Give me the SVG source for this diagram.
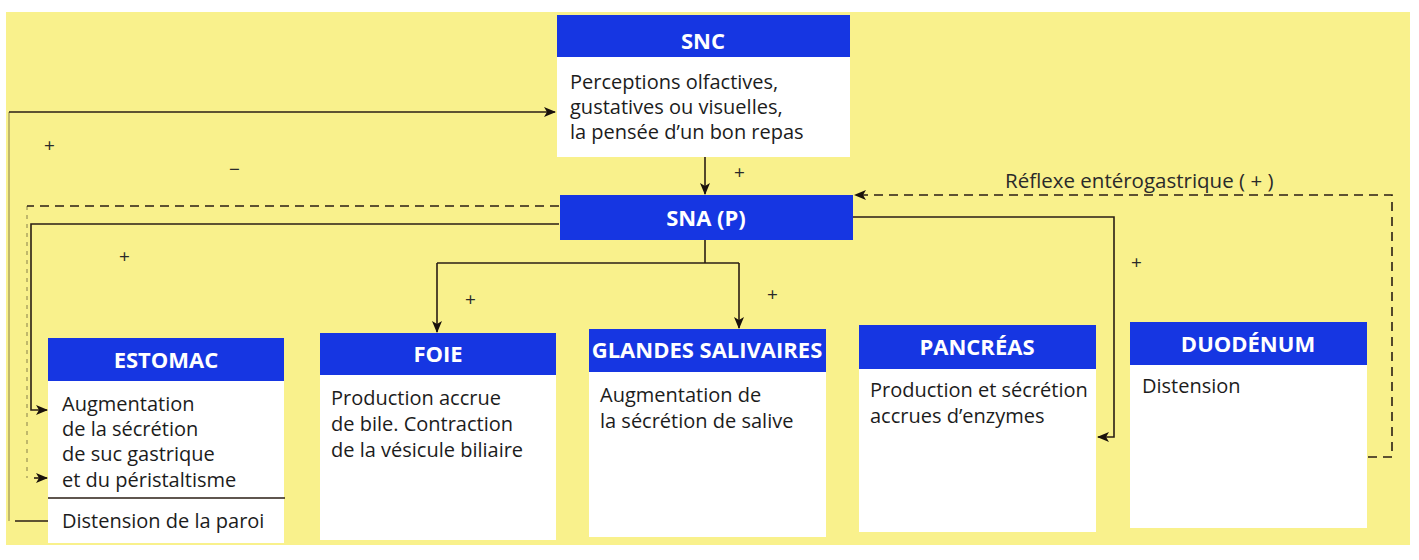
<svg xmlns="http://www.w3.org/2000/svg" width="1419" height="560" viewBox="0 0 1419 560">
<style>
.hd{fill:#1636e2}
.bd{fill:#ffffff}
.tt{font-family:"Open Sans","Noto Sans",sans-serif;font-weight:bold;font-size:22px;fill:#ffffff;text-anchor:middle}
.tx{font-family:"Open Sans","Noto Sans",sans-serif;font-size:20px;fill:#1c1c1c}
.sg{font-family:"Open Sans","Noto Sans",sans-serif;font-size:19px;fill:#2a2a2a}
.lb{font-family:"Open Sans","Noto Sans",sans-serif;font-size:20.5px;fill:#2a2a2a}
.ln{fill:none;stroke:#2a1e14;stroke-width:1.6}
.fl{fill:none;stroke:#2a1e14;stroke-width:1.2;stroke-opacity:0.45}
.ds{fill:none;stroke:#2a1e14;stroke-width:1.6;stroke-dasharray:9 6}
</style>
<defs>
<marker id="ah" viewBox="0 0 12 10" refX="11" refY="5" markerWidth="12" markerHeight="10" markerUnits="userSpaceOnUse" orient="auto">
<path d="M0,0 L12,5 L0,10 L3,5 z" fill="#1a120c"/>
</marker>
</defs>
<rect x="0" y="0" width="1419" height="560" fill="#ffffff"/>
<rect x="6" y="12" width="1404" height="533" fill="#f9f18c"/>

<g id="snc">
<rect class="hd" x="557" y="15" width="293" height="42"/>
<rect class="bd" x="557" y="57" width="293" height="100"/>
<text class="tt" x="703" y="49">SNC</text>
<text class="tx" x="570" y="89">Perceptions olfactives,</text>
<text class="tx" x="570" y="114">gustatives ou visuelles,</text>
<text class="tx" x="570" y="139">la pensée d’un bon repas</text>
</g>

<g id="sna">
<rect class="hd" x="560" y="195" width="293" height="45"/>
<text class="tt" x="706" y="226">SNA (P)</text>
</g>

<g id="estomac">
<rect class="hd" x="48" y="338" width="236" height="43"/>
<rect class="bd" x="48" y="381" width="236" height="162"/>
<text class="tt" x="166" y="368">ESTOMAC</text>
<text class="tx" x="62" y="411">Augmentation</text>
<text class="tx" x="62" y="436">de la sécrétion</text>
<text class="tx" x="62" y="461">de suc gastrique</text>
<text class="tx" x="62" y="487">et du péristaltisme</text>
<line x1="48" y1="498" x2="285" y2="498" stroke="#2a1e14" stroke-width="1.6"/>
<text class="tx" x="62" y="528">Distension de la paroi</text>
</g>

<g id="foie">
<rect class="hd" x="320" y="333" width="236" height="42"/>
<rect class="bd" x="320" y="375" width="236" height="165"/>
<text class="tt" x="438" y="362">FOIE</text>
<text class="tx" x="331" y="405">Production accrue</text>
<text class="tx" x="331" y="431">de bile. Contraction</text>
<text class="tx" x="331" y="457">de la vésicule biliaire</text>
</g>

<g id="glandes">
<rect class="hd" x="589" y="329" width="237" height="43"/>
<rect class="bd" x="589" y="372" width="237" height="165"/>
<text class="tt" x="707" y="358">GLANDES SALIVAIRES</text>
<text class="tx" x="600" y="402">Augmentation de</text>
<text class="tx" x="600" y="428">la sécrétion de salive</text>
</g>

<g id="pancreas">
<rect class="hd" x="859" y="325" width="237" height="44"/>
<rect class="bd" x="859" y="369" width="237" height="163"/>
<text class="tt" x="977" y="355">PANCRÉAS</text>
<text class="tx" x="870" y="397">Production et sécrétion</text>
<text class="tx" x="870" y="423">accrues d’enzymes</text>
</g>

<g id="duodenum">
<rect class="hd" x="1130" y="322" width="237" height="43"/>
<rect class="bd" x="1130" y="365" width="237" height="163"/>
<text class="tt" x="1248" y="352">DUODÉNUM</text>
<text class="tx" x="1142" y="393">Distension</text>
</g>

<g id="connectors">
<path class="fl" d="M9,521 V112"/>
<path class="ln" d="M48,521 H15"/>
<path class="ln" d="M9,112 H555" marker-end="url(#ah)"/>
<path class="ln" d="M705,157 V194" marker-end="url(#ah)"/>
<path class="ds" d="M559,206 H27"/>
<path class="fl" d="M27,206 V478" stroke-dasharray="4 5"/>
<path class="ln" d="M34,478 H47" marker-end="url(#ah)"/>
<path class="ln" d="M559,224 H31 V410 H47" marker-end="url(#ah)"/>
<path class="ln" d="M705,240 V263"/>
<path class="ln" d="M437,263 H739"/>
<path class="ln" d="M437,263 V332" marker-end="url(#ah)"/>
<path class="ln" d="M739,263 V328" marker-end="url(#ah)"/>
<path class="ln" d="M853,217 H1114 V437 H1098" marker-end="url(#ah)"/>
<path class="ds" d="M1368,457 H1392 V195 H855" marker-end="url(#ah)"/>
<text class="lb" x="1005" y="188">Réflexe entérogastrique ( + )</text>
<text class="sg" x="44" y="152">+</text>
<text class="sg" x="229" y="176">−</text>
<text class="sg" x="734" y="179">+</text>
<text class="sg" x="119" y="263">+</text>
<text class="sg" x="465" y="306">+</text>
<text class="sg" x="767" y="301">+</text>
<text class="sg" x="1131" y="269">+</text>
</g>
</svg>
